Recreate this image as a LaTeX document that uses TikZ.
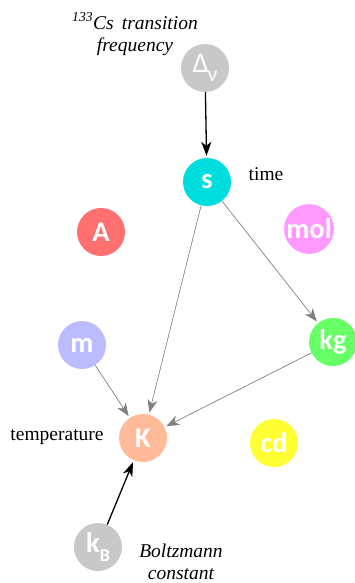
\documentclass[tikz,border=0pt]{standalone}
\usepackage{fontspec}
\setmainfont{Liberation Serif}
\newfontfamily\unitfont{Carlito}
\usetikzlibrary{arrows.meta}
\definecolor{cgray}{RGB}{200,200,200}
\definecolor{ccyan}{RGB}{0,221,221}
\definecolor{cred}{RGB}{255,112,112}
\definecolor{cpink}{RGB}{255,153,255}
\definecolor{clav}{RGB}{187,187,255}
\definecolor{cgreen}{RGB}{102,255,102}
\definecolor{csalmon}{RGB}{255,187,153}
\definecolor{cyell}{RGB}{255,255,51}
\tikzset{unit/.style={circle, minimum size=48pt, inner sep=0pt, text=white,
                      font=\unitfont\bfseries\fontsize{28.5}{28.5}\selectfont},
         lbl/.style={font=\fontsize{19.5}{22}\selectfont},
         ilbl/.style={font=\itshape\fontsize{19.5}{22}\selectfont, align=center},
         defn/.style={-{Stealth[length=14pt,width=10pt,inset=4pt]}, line width=1.3pt, black, shorten >=2pt},
         dep/.style={-{Stealth[length=13pt,width=10pt,inset=4pt]}, line width=0.7pt, gray, shorten >=2pt}}

\begin{document}
\begin{tikzpicture}[x=1pt, y=-1pt]
  \useasboundingbox (0,0) rectangle (354,583);

  % ---------- the units ----------
  \node[unit, fill=cgray]   (dnu) at (205,68)  {\mdseries Δ\kern-1pt\raisebox{-0.3em}{\fontsize{22}{22}\selectfont ν}};
  \node[unit, fill=ccyan]   (s)   at (207,182) {s};
  \node[unit, fill=cred]    (A)   at (101,232) {A};
  \node[unit, fill=cpink]   (mol) at (309,229) {mol};
  \node[unit, fill=clav]    (m)   at (82,345)  {m};
  \node[unit, fill=cgreen]  (kg)  at (333,342) {kg};
  \node[unit, fill=csalmon] (K)   at (143,438) {K};
  \node[unit, fill=cyell]   (cd)  at (274,443) {cd};
  \node[unit, fill=cgray]   (kB)  at (98,547)  {k\raisebox{-0.3em}{\fontsize{18}{18}\selectfont B}};

  % ---------- labels ----------
  \node[ilbl] (cslbl) at (135,34) {\textsuperscript{133}Cs\, transition\\frequency};
  \node[lbl]  (tlbl)  at (266,174) {time};
  \node[lbl]  (klbl)  at (57,437)  {temperature};
  \node[ilbl] (kblbl) at (181,562) {Boltzmann\\constant};

  % ---------- constants define units ----------
  \draw[defn] (dnu) -- (s);
  \draw[defn] (kB) -- (K);

  % ---------- units built on others ----------
  \draw[dep] (s) -- (K);
  \draw[dep] (s) -- (kg);
  \draw[dep] (m) -- (K);
  \draw[dep] (kg) -- (K);

\end{tikzpicture}
\end{document}
